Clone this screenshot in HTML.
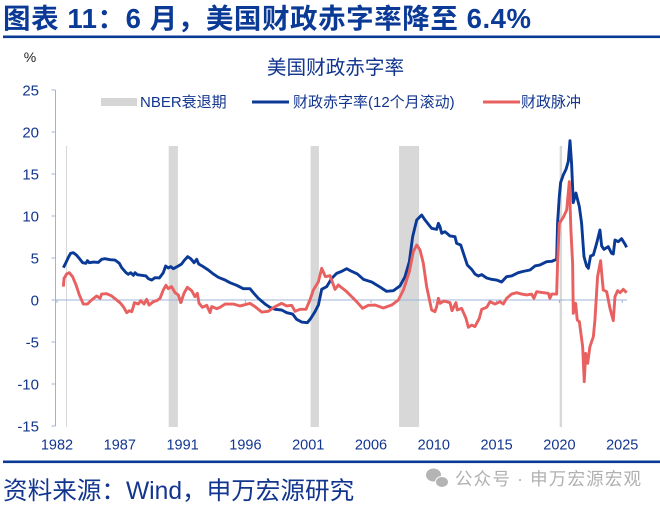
<!DOCTYPE html>
<html lang="zh">
<head>
<meta charset="utf-8">
<title>美国财政赤字率</title>
<style>
html,body{margin:0;padding:0;background:#fff;}
svg{display:block;font-family:"Liberation Sans","Noto Sans CJK SC",sans-serif;filter:blur(0.35px);}
</style>
</head>
<body>
<svg id="chart" width="660" height="505" viewBox="0 0 660 505" xmlns="http://www.w3.org/2000/svg">
  <text x="3" y="28" font-size="27.5" font-weight="700" fill="#0a3a96" textLength="528" lengthAdjust="spacing">图表 11：6 月，美国财政赤字率降至 6.4%</text>
  <rect x="3" y="35.5" width="657" height="2.6" fill="#0a3a96"/>
  <text x="30" y="62" font-size="14" fill="#222" text-anchor="middle">%</text>
  <text x="335.5" y="74" font-size="19.6" fill="#12358f" text-anchor="middle">美国财政赤字率</text>
  <g>
    <rect x="101" y="98" width="36" height="8" fill="#d6d6d6"/>
    <text x="140" y="107" font-size="15" fill="#12358f">NBER衰退期</text>
    <rect x="252" y="100.5" width="37" height="3" fill="#0a3a96"/>
    <text x="293" y="107" font-size="15" fill="#12358f">财政赤字率(12个月滚动)</text>
    <rect x="483" y="100.5" width="37" height="3" fill="#e8605f"/>
    <text x="521" y="107" font-size="15" fill="#12358f">财政脉冲</text>
  </g>
  <g id="plot"></g>
  <rect x="3" y="460.5" width="657" height="2.6" fill="#0a3a96"/>
  <text x="3" y="499" font-size="24.6" fill="#12358f">资料来源：Wind，申万宏源研究</text>
  <g>
    <ellipse cx="433.5" cy="475" rx="7.5" ry="6.5" fill="#b4b4b4"/>
    <ellipse cx="442" cy="482" rx="6.5" ry="5.5" fill="#b4b4b4" stroke="#fff" stroke-width="1"/>
    <text x="455" y="485" font-size="17.5" fill="#b0b0b0" textLength="186" lengthAdjust="spacing">公众号 · 申万宏源宏观</text>
  </g>
</svg>
<script>
const yTickValues = [25, 20, 15, 10, 5, 0, -5, -10, -15];
const xTickLabels = ["1982", "1987", "1991", "1996", "2001", "2006", "2010", "2015", "2020", "2025"];
const recessionStarts = [1982.72, 1990.5, 2001.25, 2007.95, 2020.12];
const recessionEnds = [1982.8, 1991.2, 2001.88, 2009.47, 2020.3];

const deficitYears = [1982.52,1982.69,1982.9,1983.07,1983.28,1983.53,1983.78,1983.98,1984.23,1984.34,1984.49,1984.79,1985.17,1985.42,1985.67,1986.05,1986.43,1986.76,1986.94,1987.27,1987.44,1987.62,1987.83,1987.95,1988.12,1988.45,1988.78,1988.96,1989.21,1989.46,1989.79,1990.09,1990.27,1990.47,1990.65,1990.85,1991.23,1991.48,1991.66,1991.94,1992.17,1992.42,1992.62,1992.77,1993.12,1993.5,1993.88,1994.26,1994.77,1995.14,1995.65,1996.15,1996.66,1996.91,1997.29,1997.8,1998.17,1998.55,1999.06,1999.44,1999.89,2000.19,2000.57,2001.0,2001.25,2001.58,2001.84,2002.09,2002.47,2002.85,2003.22,2003.6,2003.98,2004.36,2004.79,2005.25,2005.88,2006.38,2007.01,2007.52,2008.02,2008.4,2008.73,2008.98,2009.29,2009.66,2009.92,2010.42,2010.8,2010.93,2011.05,2011.18,2011.43,2011.81,2012.19,2012.31,2012.62,2012.87,2013.12,2013.45,2013.7,2013.95,2014.21,2014.59,2014.96,2015.34,2015.72,2016.1,2016.48,2016.98,2017.36,2017.87,2018.25,2018.63,2019.13,2019.51,2019.89,2019.96,2020.09,2020.19,2020.39,2020.6,2020.77,2020.9,2021.02,2021.15,2021.35,2021.61,2021.78,2021.96,2022.16,2022.29,2022.46,2022.67,2022.92,2023.17,2023.3,2023.47,2023.8,2024.05,2024.18,2024.31,2024.56,2024.81,2025.06,2025.19];
const deficitValues = [3.85,4.37,5.08,5.56,5.63,5.32,4.84,4.44,4.37,4.68,4.44,4.52,4.48,4.84,4.92,4.8,4.76,4.37,3.85,3.25,3.06,3.25,2.94,3.25,3.02,2.94,2.86,2.54,2.38,2.66,2.62,3.25,4.05,3.81,3.97,3.73,4.05,4.29,4.68,5.16,4.92,4.44,4.84,4.29,3.97,3.57,3.1,2.7,2.38,2.06,1.75,1.35,1.35,0.87,0.2,-0.48,-0.87,-1.11,-1.19,-1.51,-1.67,-2.3,-2.62,-2.7,-2.22,-1.39,-0.6,1.27,1.59,2.58,3.17,3.41,3.73,3.41,3.1,2.46,2.14,1.67,1.03,1.11,1.67,2.78,4.56,7.54,9.52,10.12,9.52,8.53,8.41,9.13,8.73,7.94,8.13,7.62,7.54,6.75,6.55,5.36,4.17,3.65,3.1,2.86,3.02,2.62,2.46,2.38,2.14,2.78,2.86,3.25,3.41,3.57,4.05,4.17,4.56,4.6,4.84,9.13,12.3,13.97,14.88,15.56,16.47,18.97,16.27,11.59,12.74,11.11,9.13,5.16,4.05,3.77,5.24,5.36,6.75,8.33,6.43,6.03,6.35,5.56,5.48,7.14,6.94,7.3,6.67,6.27];

const impulseYears = [1982.52,1982.57,1982.77,1982.97,1983.22,1983.48,1983.73,1984.03,1984.34,1984.66,1985.04,1985.3,1985.42,1985.8,1986.18,1986.56,1986.86,1987.11,1987.32,1987.52,1987.7,1987.82,1987.9,1988.2,1988.38,1988.63,1988.83,1989.01,1989.34,1989.59,1989.84,1990.09,1990.29,1990.47,1990.72,1990.98,1991.23,1991.41,1991.66,1991.91,1992.24,1992.49,1992.67,1992.8,1993.05,1993.38,1993.63,1993.76,1994.14,1994.39,1994.77,1995.4,1995.9,1996.28,1996.66,1997.04,1997.54,1998.05,1998.55,1999.06,1999.44,1999.82,2000.07,2000.45,2000.9,2001.2,2001.46,2001.84,2002.09,2002.37,2002.72,2003.1,2003.35,2003.98,2004.36,2004.74,2005.19,2005.62,2006.13,2006.76,2007.39,2007.9,2008.28,2008.73,2009.03,2009.29,2009.54,2009.79,2010.04,2010.42,2010.67,2010.8,2010.93,2011.05,2011.35,2011.81,2011.96,2012.26,2012.36,2012.69,2013.02,2013.2,2013.45,2013.7,2014.03,2014.21,2014.59,2014.84,2015.22,2015.6,2015.85,2016.1,2016.48,2016.86,2017.24,2017.62,2017.99,2018.17,2018.37,2018.88,2019.26,2019.38,2019.51,2019.89,2019.96,2020.09,2020.39,2020.65,2020.85,2020.97,2021.1,2021.15,2021.33,2021.45,2021.61,2021.86,2021.98,2022.09,2022.24,2022.41,2022.67,2022.79,2022.99,2023.22,2023.42,2023.68,2023.93,2024.18,2024.31,2024.51,2024.69,2024.94,2025.19];
const impulseValues = [1.59,2.58,3.1,3.25,2.78,1.79,0.6,-0.48,-0.48,0,0.48,0.2,0.71,0.75,0.48,0,-0.4,-0.91,-1.51,-1.27,-1.39,-0.79,-0.32,-0.48,-0.08,-0.48,0.08,-0.6,-0.2,-0.08,0.2,1.19,1.75,1.35,1.59,0.87,0.6,-0.32,0.79,1.51,1.11,0.4,0.79,-0.4,-0.87,-0.63,-1.51,-0.79,-1.03,-0.87,-0.48,-0.48,-0.71,-0.56,-0.4,-0.79,-1.43,-1.35,-0.79,-0.4,-0.71,-0.63,-1.35,-1.11,-1.11,0,1.19,2.18,3.77,2.78,2.9,1.27,1.79,0.99,0.4,-0.2,-0.99,-0.63,-0.6,-0.95,-0.6,0,1.19,3.37,5.75,6.55,5.95,4.37,1.59,-1.19,-1.39,-0.79,0.2,-0.4,-0.12,-0.32,-1.27,-0.32,-1.19,-0.99,-2.18,-3.25,-2.98,-3.17,-2.18,-1.11,-0.87,-0.2,-0.48,-0.2,-0.48,0.2,0.71,0.87,0.71,0.6,0.71,0.2,0.99,0.87,0.79,0.2,0.71,0.71,4.37,9.13,9.84,10.71,14.09,8.33,4.37,-1.59,-0.4,-2.38,-2.58,-5.56,-9.72,-6.35,-7.54,-5.56,-4.37,-2.38,2.78,4.68,1.19,0.99,-0.99,-2.46,0.4,1.11,0.87,1.27,0.87];

const SVGNS = 'http://www.w3.org/2000/svg';
const plot = document.getElementById('plot');
const textColor = '#12358f';
const axisColor = '#9db3da';

function xScale(year) { return 56.5 + (year - 1982) * 13.2; }
function yScale(value) { return 300 - value * 8.4; }
function xTickScale(index) { return 57 + index * 62.8; }

function make(tag, attrs) {
  const el = document.createElementNS(SVGNS, tag);
  Object.keys(attrs).forEach(function (k) { el.setAttribute(k, attrs[k]); });
  plot.appendChild(el);
  return el;
}
function pathFrom(years, values) {
  return years.map(function (yr, i) {
    return (i ? 'L' : 'M') + xScale(yr).toFixed(2) + ' ' + yScale(values[i]).toFixed(2);
  }).join('');
}

recessionStarts.forEach(function (start, i) {
  const band = make('rect', { x: xScale(start), y: 146, width: xScale(recessionEnds[i]) - xScale(start), height: yScale(-15) - 146 + 1, fill: '#d8d8d8' });
  
  
});

const yAxis = make('line', { x1: 55.5, x2: 55.5, y1: yScale(25), y2: yScale(-15), stroke: axisColor, 'stroke-width': 1 });



yTickValues.forEach(function (v) {
  const tick = make('line', { x1: 51.5, x2: 55.5, y1: yScale(v), y2: yScale(v), stroke: axisColor, 'stroke-width': 1 });
  
  
  const label = make('text', { x: 39, y: yScale(v) + 5.5, 'font-size': 15, fill: textColor, 'text-anchor': 'end' });
  label.textContent = String(v);
  
  
});

const zeroLine = make('line', { x1: 55.5, x2: 627, y1: yScale(0), y2: yScale(0), stroke: axisColor, 'stroke-width': 1 });



xTickLabels.forEach(function (t, i) {
  const tick = make('line', { x1: xTickScale(i), x2: xTickScale(i), y1: yScale(0), y2: yScale(0) + 3, stroke: axisColor, 'stroke-width': 1 });
  
  
  const label = make('text', { x: xTickScale(i), y: 449.5, 'font-size': 14.5, fill: textColor, 'text-anchor': 'middle' });
  label.textContent = t;
  
  
});

const deficitLine = make('path', { d: pathFrom(deficitYears, deficitValues), fill: 'none', stroke: '#0a3a96', 'stroke-width': 2.9, 'stroke-linejoin': 'round' });



const impulseLine = make('path', { d: pathFrom(impulseYears, impulseValues), fill: 'none', stroke: '#e8605f', 'stroke-width': 2.9, 'stroke-linejoin': 'round' });


</script>
</body>
</html>
